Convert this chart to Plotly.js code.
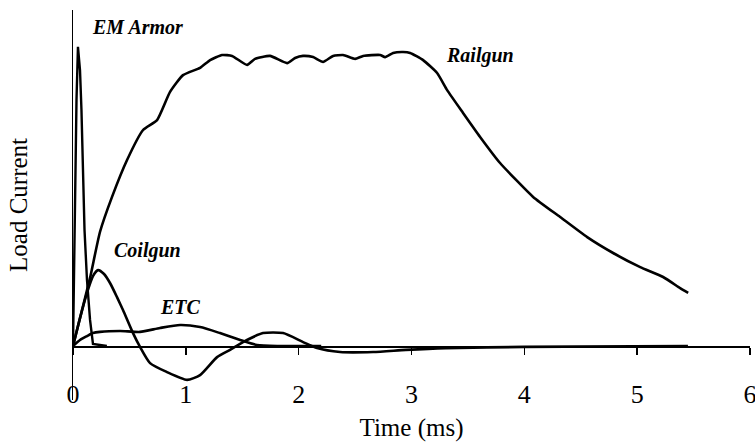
<!DOCTYPE html>
<html>
<head>
<meta charset="utf-8">
<script src="https://cdn.plot.ly/plotly-3.0.1.min.js"></script>
<style>
  html, body { margin: 0; padding: 0; background: #ffffff; }
  #chart { width: 755px; height: 446px; }
</style>
</head>
<body>
<div id="chart"></div>
<script>
// ---- Data (time in ms, load current in arbitrary units) ----
const railgunTime = [0, 0.062, 0.151, 0.239, 0.346, 0.479, 0.621, 0.745, 0.860, 0.975, 1.126, 1.215, 1.321, 1.410, 1.543, 1.613, 1.746, 1.897, 1.968, 2.039, 2.128, 2.216, 2.305, 2.394, 2.500, 2.571, 2.722, 2.766, 2.837, 2.926, 2.988, 3.103, 3.227, 3.316, 3.457, 3.608, 3.785, 4.078, 4.317, 4.557, 4.787, 5.027, 5.230, 5.381, 5.452];
const railgunCurrent = [0, 9.3, 22.7, 38, 49.7, 62, 72, 75.3, 84.7, 90.3, 92.7, 95.3, 97, 96.7, 93.7, 95.7, 96.7, 94.3, 96, 96.7, 96.3, 94.7, 96.7, 97, 95.7, 96.7, 97, 96.3, 97.7, 98, 97.7, 95.3, 91, 85.3, 77.7, 69.7, 61, 49.7, 43, 36.3, 31, 26.3, 23, 19.3, 17.7];

const coilgunTime = [0, 0.062, 0.124, 0.177, 0.222, 0.275, 0.328, 0.39, 0.443, 0.532, 0.594, 0.683, 0.833, 1.011, 1.126, 1.277, 1.392, 1.507, 1.684, 1.862, 2.039, 2.163, 2.367, 2.66, 2.95, 3.3, 4.0, 5.45];
const coilgunCurrent = [0, 9.3, 17.7, 23.3, 25.3, 24, 21, 16.3, 12, 4.3, -0.3, -5.7, -8.7, -11.3, -9.7, -3.7, -1.3, 1.3, 4.3, 4.3, 1.3, -0.7, -2, -2, -1.3, -0.7, -0.3, 0];

const etcTime = [0, 0.062, 0.124, 0.177, 0.239, 0.417, 0.594, 0.771, 0.949, 1.126, 1.303, 1.481, 1.631, 1.835, 2.2];
const etcCurrent = [0, 2, 3.3, 4.3, 4.7, 5, 4.7, 6, 7, 6.3, 4.3, 2, 0.3, 0, 0];

const emArmorTime = [0, 0.018, 0.031, 0.044, 0.062, 0.075, 0.089, 0.102, 0.124, 0.151, 0.177, 0.3];
const emArmorCurrent = [0, 48.7, 82, 99.7, 92, 78.7, 58.7, 38.7, 22, 8.7, 0.7, 0];

const seriesNames = ['EM Armor', 'Railgun', 'Coilgun', 'ETC'];
const labelX = [0.576, 3.61, 0.656, 0.957];
const labelY = [106.3, 97, 32, 13];
const xTickValues = [0, 1, 2, 3, 4, 5, 6];
const xTickLabels = ['0', '1', '2', '3', '4', '5', '6'];

const lineStyle = { color: '#000000', width: 2.6 };

const traces = [
  { x: emArmorTime, y: emArmorCurrent, name: seriesNames[0], mode: 'lines', line: Object.assign({}, lineStyle, { width: 2.4 }) },
  { x: railgunTime, y: railgunCurrent, name: seriesNames[1], mode: 'lines', line: Object.assign({}, lineStyle, { shape: 'spline', smoothing: 0.5 }) },
  { x: coilgunTime, y: coilgunCurrent, name: seriesNames[2], mode: 'lines', line: Object.assign({}, lineStyle, { shape: 'spline', smoothing: 0.6 }) },
  { x: etcTime, y: etcCurrent, name: seriesNames[3], mode: 'lines', line: Object.assign({}, lineStyle, { shape: 'spline', smoothing: 0.6 }) }
];

const yMin = -18, yMax = 112;
const zeroPos = (0 - yMin) / (yMax - yMin);

const annotations = seriesNames.map((name, i) => ({
  x: labelX[i], y: labelY[i], xref: 'x', yref: 'y',
  text: '<b><i>' + name + '</i></b>',
  showarrow: false,
  font: { family: 'Liberation Serif, Times New Roman, serif', size: 20, color: '#000000' }
}));

const layout = {
  width: 755,
  height: 446,
  margin: { l: 73, r: 5, t: 10, b: 46, pad: 0 },
  paper_bgcolor: '#ffffff',
  plot_bgcolor: '#ffffff',
  showlegend: false,
  font: { family: 'Liberation Serif, Times New Roman, serif', color: '#000000' },
  xaxis: {
    range: [0, 6],
    anchor: 'free',
    position: zeroPos,
    showgrid: false,
    zeroline: false,
    showline: true,
    linecolor: '#000000',
    linewidth: 1.6,
    ticks: 'outside',
    ticklen: 7,
    tickwidth: 1.4,
    tickcolor: '#000000',
    tickvals: xTickValues,
    ticktext: xTickLabels,
    tickfont: { family: 'Liberation Serif, Times New Roman, serif', size: 26, color: '#000000' },
    ticklabelstandoff: 17,
    ticklabeloverflow: 'allow',
    automargin: false,
    title: { text: 'Time (ms)', font: { family: 'Liberation Serif, Times New Roman, serif', size: 25, color: '#000000' }, standoff: 11 }
  },
  yaxis: {
    range: [yMin, yMax],
    showgrid: false,
    zeroline: false,
    showline: true,
    linecolor: '#000000',
    linewidth: 1.2,
    ticks: '',
    showticklabels: false,
    automargin: false,
    title: { text: 'Load Current', font: { family: 'Liberation Serif, Times New Roman, serif', size: 25, color: '#000000' }, standoff: 37 }
  },
  annotations: annotations
};

Plotly.newPlot('chart', traces, layout, { staticPlot: true, displayModeBar: false });
</script>
</body>
</html>
